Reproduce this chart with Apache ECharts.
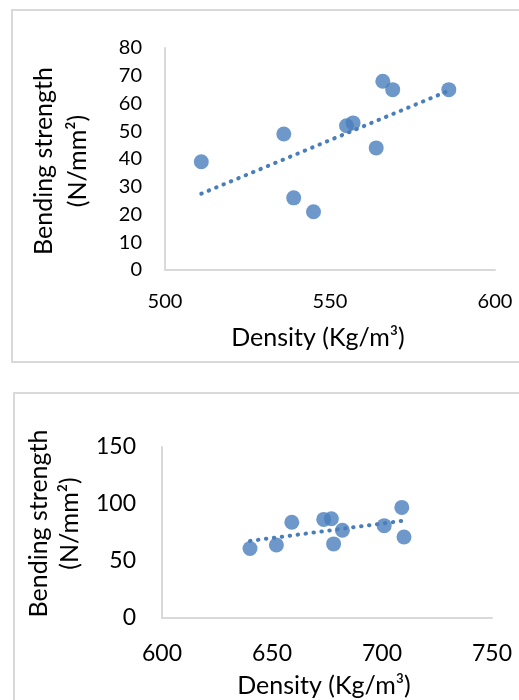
<!DOCTYPE html>
<html>
<head>
<meta charset="utf-8">
<script src="https://cdn.jsdelivr.net/npm/echarts@6/dist/echarts.min.js"></script>
<style>
  html, body { margin: 0; padding: 0; background: #fff; }
  #main { width: 519px; height: 700px; }
</style>
</head>
<body>
<div id="main"></div>
<script>
// chart 1: density 500-600
var density1 = [511, 536, 539, 545, 555, 557, 564, 566, 569, 586];
var strength1 = [39, 49, 26, 21, 52, 53, 44, 68, 65, 65];
var trend1 = [[511, 27.5], [586, 64.6]];
var xTicks1 = [500, 550, 600];
var yTicks1 = [0, 10, 20, 30, 40, 50, 60, 70, 80];

// chart 2: density 600-750
var density2 = [640, 652, 659, 673.5, 677, 678, 682, 701, 709, 710];
var strength2 = [61, 64, 84, 86.5, 87, 65, 77, 81, 97, 71];
var trend2 = [[640, 67.6], [710, 85.4]];
var xTicks2 = [600, 650, 700, 750];
var yTicks2 = [0, 50, 100, 150];

var xName = 'Density (Kg/m\u00b3)';
var yName = 'Bending strength\n(N/mm\u00b2)';

var dotColor = '#4A7EBB';
var axisColor = '#d9d9d9';
var font = 'Lato';

function pairs(xs, ys)
{
    var out = [];
    for (var i = 0; i < xs.length; i++) {
        out.push([xs[i], ys[i]]);
    }
    return out;
}

function makeX(idx, ticks, labelSize, labelMargin, nameGap, namePad)
{
    return {
        gridIndex: idx,
        type: 'value',
        min: ticks[0],
        max: ticks[ticks.length - 1],
        interval: ticks[1] - ticks[0],
        name: xName,
        nameLocation: 'middle',
        nameGap: nameGap,
        nameTextStyle: { fontFamily: font, fontSize: 25, color: '#000', padding: namePad },
        axisLine: { show: true, lineStyle: { color: axisColor, width: 2 } },
        axisTick: { show: false },
        splitLine: { show: false },
        axisLabel: { fontFamily: font, fontSize: labelSize, color: '#000', margin: labelMargin }
    };
}

function makeY(idx, ticks, labelSize, labelMargin, nameGap, lineH, namePad)
{
    return {
        gridIndex: idx,
        type: 'value',
        min: ticks[0],
        max: ticks[ticks.length - 1],
        interval: ticks[1] - ticks[0],
        name: yName,
        nameLocation: 'middle',
        nameRotate: 90,
        nameGap: nameGap,
        nameTextStyle: { fontFamily: font, fontSize: 25, color: '#000', lineHeight: lineH, padding: namePad },
        axisLine: { show: true, lineStyle: { color: axisColor, width: 2 } },
        axisTick: { show: false },
        splitLine: { show: false },
        axisLabel: { fontFamily: font, fontSize: labelSize, color: '#000', margin: labelMargin }
    };
}

var myChart = echarts.init(document.getElementById('main'));

var option = {
    animation: false,
    backgroundColor: '#fff',
    graphic: [
        { type: 'rect', shape: { x: 12, y: 10, width: 530, height: 352 },
          style: { fill: 'none', stroke: axisColor, lineWidth: 2 }, z: -10 },
        { type: 'rect', shape: { x: 14, y: 393, width: 530, height: 330 },
          style: { fill: 'none', stroke: axisColor, lineWidth: 2 }, z: -10 }
    ],
    grid: [
        { left: 165, top: 48, width: 330, height: 222 },
        { left: 162, top: 447, width: 330, height: 171 }
    ],
    xAxis: [
        makeX(0, xTicks1, 20, 22, 55, [0, 24, 0, 0]),
        makeX(1, xTicks2, 23, 24, 55, [0, 6, 0, 0])
    ],
    yAxis: [
        makeY(0, yTicks1, 20, 23, 70, 34, [0, 4, 0, 0]),
        makeY(1, yTicks2, 23, 26, 75, 31, [0, 0, 0, 18])
    ],
    series: [
        {
            type: 'scatter', xAxisIndex: 0, yAxisIndex: 0,
            data: pairs(density1, strength1),
            symbolSize: 15,
            itemStyle: { color: dotColor }
        },
        {
            type: 'line', xAxisIndex: 0, yAxisIndex: 0,
            data: trend1, showSymbol: false, z: 3,
            lineStyle: { color: dotColor, width: 4, type: [0.5, 7.5], cap: 'round' }
        },
        {
            type: 'scatter', xAxisIndex: 1, yAxisIndex: 1,
            data: pairs(density2, strength2),
            symbolSize: 15,
            itemStyle: { color: dotColor }
        },
        {
            type: 'line', xAxisIndex: 1, yAxisIndex: 1,
            data: trend2, showSymbol: false, z: 3,
            lineStyle: { color: dotColor, width: 4, type: [0.5, 7.5], cap: 'round' }
        }
    ]
};

myChart.setOption(option);
</script>
</body>
</html>
